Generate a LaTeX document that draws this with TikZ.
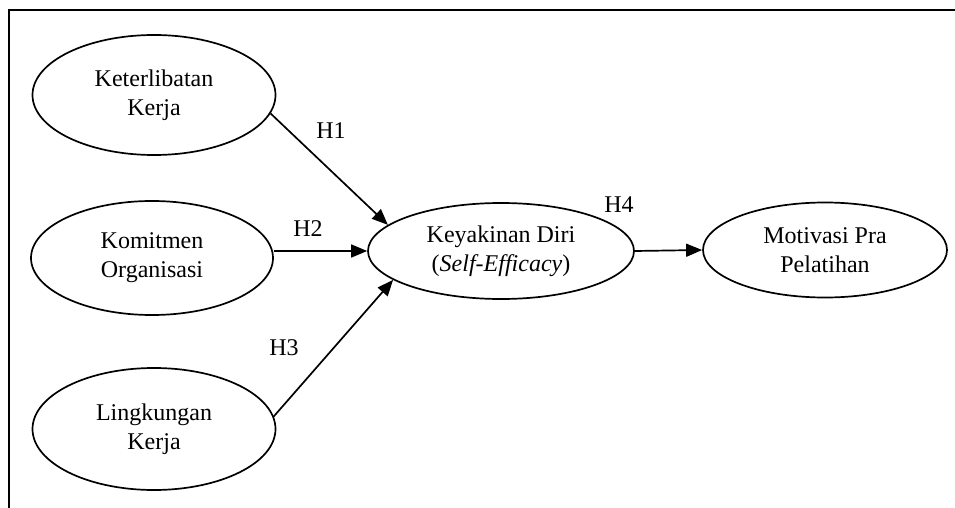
\documentclass[tikz,border=0pt]{standalone}
\usepackage{fontspec}
\setmainfont{Liberation Serif}
\usetikzlibrary{shapes.geometric,arrows.meta}
\begin{document}
\begin{tikzpicture}[x=1pt,y=-1pt,
  ell/.style={draw,ellipse,line width=1.7pt,inner sep=0pt,align=center,font=\fontsize{24}{29}\selectfont},
  arr/.style={line width=1.7pt,-{Triangle[length=16pt,width=13pt]}},
  lbl/.style={font=\fontsize{24}{29}\selectfont,inner sep=0pt}]
\useasboundingbox (0,0) rectangle (955,508);
\draw[line width=2.2pt] (9,508) -- (9,10) -- (955,10);
\node[ell,minimum width=243pt,minimum height=120pt] (e1) at (154,95) {Keterlibatan\\Kerja};
\node[ell,minimum width=242pt,minimum height=114pt] (e2) at (152,258) {Komitmen\\Organisasi};
\node[ell,minimum width=243pt,minimum height=122pt] (e3) at (154,429) {Lingkungan\\Kerja};
\node[ell,minimum width=266pt,minimum height=96pt] (c) at (501,251) {Keyakinan Diri\\(\textit{Self-Efficacy})};
\node[ell,minimum width=244pt,minimum height=95pt] (r) at (825,250) {Motivasi Pra\\Pelatihan};
\draw[arr] (e1.-9) -- (c.167);
\draw[arr] (c.west -| e2.east) -- (c.west);
\draw[arr] (e3.6) -- (c.195);
\draw[arr] (c.east) -- (r.west);
\node[lbl] (h1) at (331,131) {H1};
\node[lbl] (h2) at (308,229) {H2};
\node[lbl] (h3) at (284,348) {H3};
\node[lbl] (h4) at (619,205) {H4};
\end{tikzpicture}
\end{document}
